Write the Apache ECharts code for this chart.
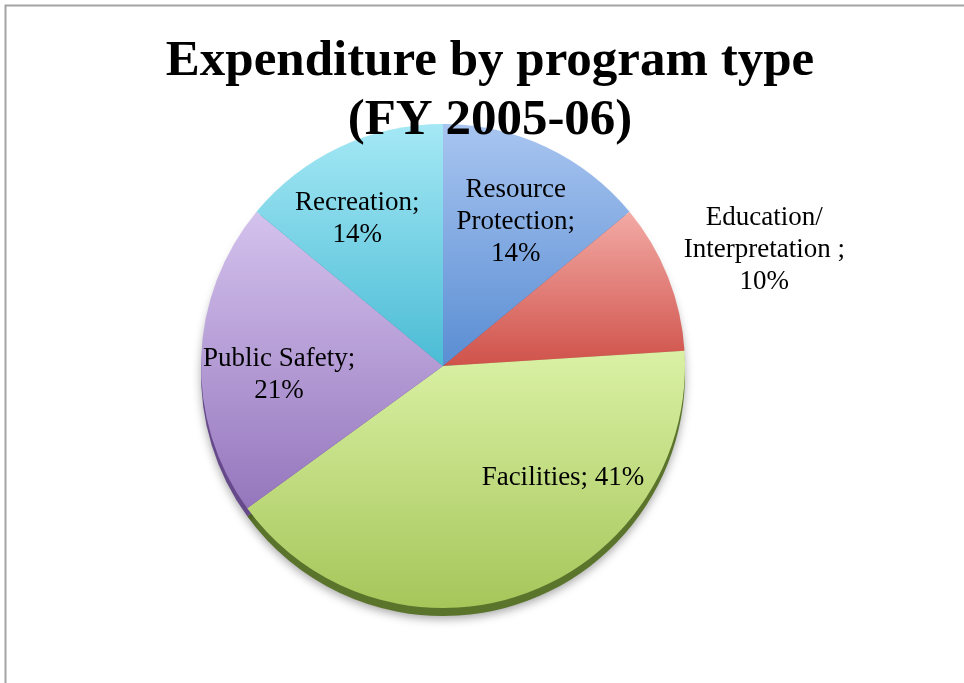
<!DOCTYPE html>
<html>
<head>
<meta charset="utf-8">
<title>Expenditure by program type (FY 2005-06)</title>
<script src="https://cdn.jsdelivr.net/npm/echarts@6/dist/echarts.min.js"></script>
<style>
  html, body { margin: 0; padding: 0; background: #ffffff; }
  #chart { width: 964px; height: 683px; }
</style>
</head>
<body>
<div id="chart"></div>
<script>
// Program categories and their share of expenditure (%)
const categories = ['Resource Protection', 'Education/\nInterpretation ', 'Facilities', 'Public Safety', 'Recreation'];
const shares = [14, 10, 41, 21, 14];

// Slice fills: light top -> deeper bottom, plus a darker edge colour for the pie's rim
const topColors = ['#a8c5f0', '#f3aaa5', '#daf1a5', '#d4c2ed', '#a5e8f5'];
const bottomColors = ['#5a8dd3', '#cf524a', '#a6c65a', '#9576bd', '#4bbcd5'];
const rimColors = ['#3d679f', '#9b3a34', '#5b742c', '#65498a', '#2e93a9'];

// Label nudges relative to the default inside position of each slice
const labelShift = [[20, -31], [206, -69], [78, -4], [-40, 14], [-33, -34]];

const CENTER_X = 443, CENTER_Y = 366, RADIUS = 242, RIM_DEPTH = 8;

const topData = categories.map((name, i) => ({
  name: name,
  value: shares[i],
  itemStyle: {
    color: new echarts.graphic.LinearGradient(0, 0, 0, 1, [
      { offset: 0, color: topColors[i] },
      { offset: 1, color: bottomColors[i] }
    ])
  }
}));

const rimData = categories.map((name, i) => ({
  name: name,
  value: shares[i],
  itemStyle: { color: rimColors[i] }
}));

const chart = echarts.init(document.getElementById('chart'), null, { renderer: 'canvas' });

chart.setOption({
  animation: false,
  backgroundColor: '#ffffff',
  graphic: [{
    type: 'rect',
    silent: true,
    shape: { x: 5.5, y: 5.5, width: 1200, height: 900 },
    style: { fill: 'none', stroke: '#a4a4a4', lineWidth: 2 },
    z: -10
  }],
  title: {
    text: 'Expenditure by program type\n(FY 2005-06)',
    left: 485,
    top: 27,
    textAlign: 'center',
    textStyle: {
      fontFamily: 'Liberation Serif',
      fontWeight: 'bold',
      fontSize: 51,
      lineHeight: 59,
      color: '#000000'
    },
    z: 10
  },
  series: [
    {
      // the pie's visible edge and drop shadow
      type: 'pie',
      silent: true,
      z: 1,
      center: [CENTER_X, CENTER_Y + RIM_DEPTH],
      radius: RADIUS,
      startAngle: 90,
      clockwise: true,
      label: { show: false },
      labelLine: { show: false },
      itemStyle: {
        borderWidth: 0,
        shadowBlur: 10,
        shadowOffsetY: 3,
        shadowColor: 'rgba(0,0,0,0.35)'
      },
      emphasis: { disabled: true },
      data: rimData
    },
    {
      type: 'pie',
      silent: true,
      z: 2,
      center: [CENTER_X, CENTER_Y],
      radius: RADIUS,
      startAngle: 90,
      clockwise: true,
      itemStyle: { borderWidth: 0 },
      emphasis: { disabled: true },
      labelLine: { show: false },
      label: {
        show: true,
        position: 'inside',
        fontFamily: 'Liberation Serif',
        fontSize: 27,
        lineHeight: 32,
        color: '#000000',
        align: 'center',
        formatter: (p) => {
          const name = p.name;
          if (name === 'Resource Protection') return 'Resource\nProtection;\n' + p.value + '%';
          if (name === 'Facilities') return name + '; ' + p.value + '%';
          return name + ';\n' + p.value + '%';
        }
      },
      labelLayout: (params) => ({
        dx: labelShift[params.dataIndex][0],
        dy: labelShift[params.dataIndex][1] - 1
      }),
      data: topData
    }
  ]
});
</script>
</body>
</html>
